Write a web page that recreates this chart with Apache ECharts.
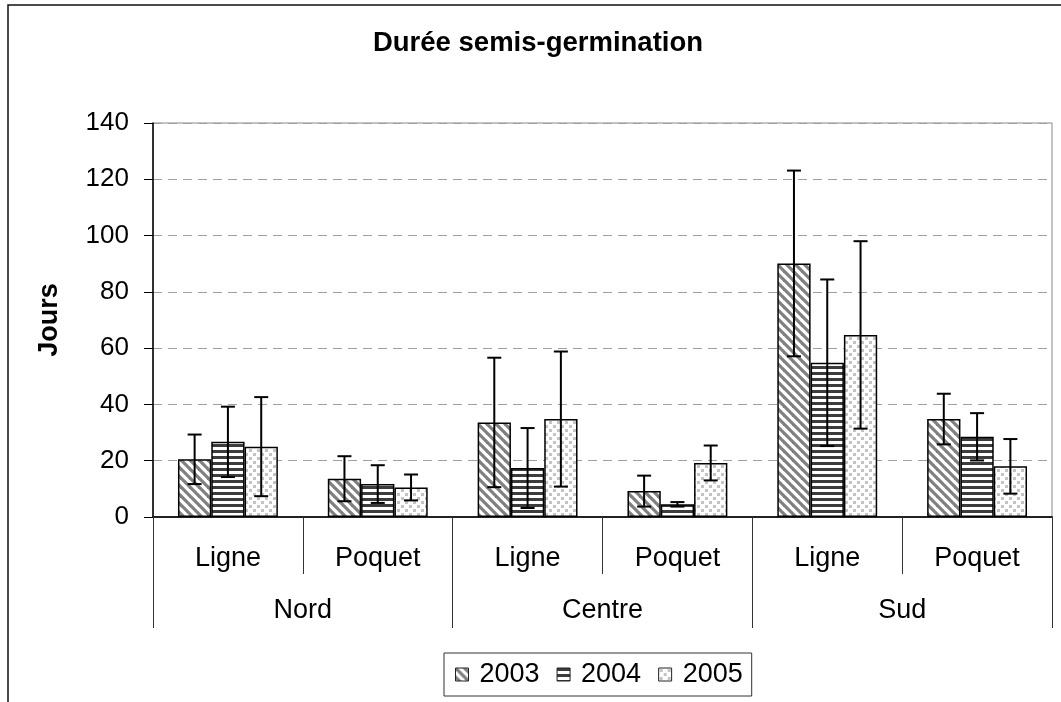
<!DOCTYPE html>
<html>
<head>
<meta charset="utf-8">
<script src="https://cdn.jsdelivr.net/npm/echarts@6/dist/echarts.min.js"></script>
<style>
  html, body { margin: 0; padding: 0; background: #fff; }
  #chart { width: 1061px; height: 702px; }
</style>
</head>
<body>
<div id="chart"></div>
<script>
// Sowing-to-germination duration (days), by zone and sowing method
const methods = ['Ligne', 'Poquet', 'Ligne', 'Poquet', 'Ligne', 'Poquet'];
const zones = ['Nord', 'Centre', 'Sud'];
const years = ['2003', '2004', '2005'];
const yTicks = { min: 0, max: 140, step: 20 };

const mean2003 = [20.5, 13.6, 33.6, 9.2, 90.1, 34.8];
const mean2004 = [26.7, 11.7, 17.4, 4.5, 54.8, 28.5];
const mean2005 = [25.0, 10.5, 34.8, 19.2, 64.7, 18.0];

const err2003 = [8.8, 8.0, 23.0, 5.5, 33.0, 9.0];
const err2004 = [12.5, 6.7, 14.2, 0.8, 29.6, 8.4];
const err2005 = [17.6, 4.6, 24.0, 6.2, 33.3, 9.7];

const means = [mean2003, mean2004, mean2005];
const errs = [err2003, err2004, err2005];

const FONT = '"Liberation Sans", Arial, Helvetica, sans-serif';
const GAP_RATIO = 1 / 3;

// Hatch fills for the three years
function tile(w, h, draw) {
  const c = document.createElement('canvas');
  c.width = w; c.height = h;
  const ctx = c.getContext('2d');
  ctx.fillStyle = '#ffffff';
  ctx.fillRect(0, 0, w, h);
  draw(ctx);
  return c;
}
const diagTile = tile(9, 9, ctx => {
  ctx.strokeStyle = '#808080';
  ctx.lineWidth = 3.2;
  for (let k = -2; k <= 2; k++) {
    ctx.beginPath();
    ctx.moveTo(k * 9 - 9, -9);
    ctx.lineTo(k * 9 + 18, 18);
    ctx.stroke();
  }
});
const stripeTile = tile(6, 6, ctx => {
  ctx.fillStyle = '#3c3c3c';
  ctx.fillRect(0, 0, 6, 3);
});
const dotTile = tile(8, 8, ctx => {
  ctx.fillStyle = '#c4c4c4';
  ctx.fillRect(1, 1, 3, 3);
  ctx.fillRect(5, 5, 3, 3);
});
const fills = [diagTile, stripeTile, dotTile].map(img => ({ image: img, repeat: 'repeat' }));

const barSeries = years.map((y, i) => ({
  name: y,
  type: 'bar',
  data: means[i],
  barGap: '0%',
  barCategoryGap: (GAP_RATIO * 100) + '%',
  itemStyle: { color: fills[i], borderColor: '#000', borderWidth: 1.5 },
  emphasis: { disabled: true },
  z: 2
}));

function errorRenderer(offsetIndex) {
  return function (params, api) {
    const cat = api.value(0);
    const v = api.value(1);
    const e = api.value(2);
    const band = api.size([1, 0])[0];
    const bw = band * (1 - GAP_RATIO) / 3;
    const cx = api.coord([cat, v])[0] + (offsetIndex - 1) * bw;
    const yTop = api.coord([cat, v + e])[1];
    const yBot = api.coord([cat, v - e])[1];
    const half = 7;
    const style = { stroke: '#000', lineWidth: 2 };
    return {
      type: 'group',
      children: [
        { type: 'line', shape: { x1: cx, y1: yTop, x2: cx, y2: yBot }, style },
        { type: 'line', shape: { x1: cx - half, y1: yTop, x2: cx + half, y2: yTop }, style },
        { type: 'line', shape: { x1: cx - half, y1: yBot, x2: cx + half, y2: yBot }, style }
      ]
    };
  };
}

const errorSeries = years.map((y, i) => ({
  name: 'err-' + y,
  type: 'custom',
  renderItem: errorRenderer(i),
  data: means[i].map((v, k) => [k, v, errs[i][k]]),
  encode: { x: 0, y: 1 },
  silent: true,
  z: 5
}));

const chart = echarts.init(document.getElementById('chart'), null, { renderer: 'canvas' });

chart.setOption({
  backgroundColor: '#ffffff',
  animation: false,
  textStyle: { fontFamily: FONT },
  title: {
    text: 'Durée semis-germination',
    left: 538,
    top: 29,
    padding: 0,
    textAlign: 'center',
    textStyle: { fontFamily: FONT, fontSize: 27.5, fontWeight: 'bold', color: '#000' }
  },
  graphic: [
    {
      type: 'rect',
      silent: true,
      z: -10,
      shape: { x: 8, y: 5, width: 1200, height: 900 },
      style: { fill: 'none', stroke: '#111', lineWidth: 1.5 }
    }
  ],
  legend: {
    data: years,
    left: 444,
    top: 653,
    orient: 'horizontal',
    icon: 'rect',
    itemWidth: 13,
    itemHeight: 13,
    itemGap: 17,
    padding: [8, 9, 8, 11],
    borderColor: '#333',
    borderWidth: 1,
    selectedMode: false,
    itemStyle: { borderColor: '#222', borderWidth: 1 },
    textStyle: { fontFamily: FONT, fontSize: 27, color: '#000', padding: [0, 0, 0, 6] }
  },
  grid: {
    left: 153,
    right: 9,
    top: 123,
    bottom: 185,
    show: true,
    borderColor: '#888',
    borderWidth: 1,
    backgroundColor: 'transparent'
  },
  xAxis: [
    {
      type: 'category',
      data: methods,
      position: 'bottom',
      axisLine: { show: true, lineStyle: { color: '#222', width: 2 } },
      axisTick: { show: true, interval: 0, length: 57, lineStyle: { color: '#333', width: 1 } },
      axisLabel: { interval: 0, fontFamily: FONT, fontSize: 27, color: '#000', margin: 28 }
    },
    {
      type: 'category',
      data: zones,
      position: 'bottom',
      axisLine: { show: false },
      axisTick: { show: true, interval: 0, length: 111, lineStyle: { color: '#333', width: 1 } },
      axisLabel: { interval: 0, fontFamily: FONT, fontSize: 27, color: '#000', margin: 80 }
    }
  ],
  yAxis: {
    type: 'value',
    min: yTicks.min,
    max: yTicks.max,
    interval: yTicks.step,
    name: 'Jours',
    nameLocation: 'middle',
    nameGap: 90,
    nameTextStyle: { fontFamily: FONT, fontSize: 27, fontWeight: 'bold', color: '#000' },
    axisLine: { show: true, lineStyle: { color: '#000', width: 1.5 } },
    axisTick: { show: true, length: 9, lineStyle: { color: '#000', width: 1 } },
    axisLabel: { fontFamily: FONT, fontSize: 26, color: '#000', margin: 24 },
    splitLine: { show: true, lineStyle: { color: '#a0a0a0', width: 1, type: [9, 6] } }
  },
  series: barSeries.concat(errorSeries)
});
</script>
</body>
</html>
